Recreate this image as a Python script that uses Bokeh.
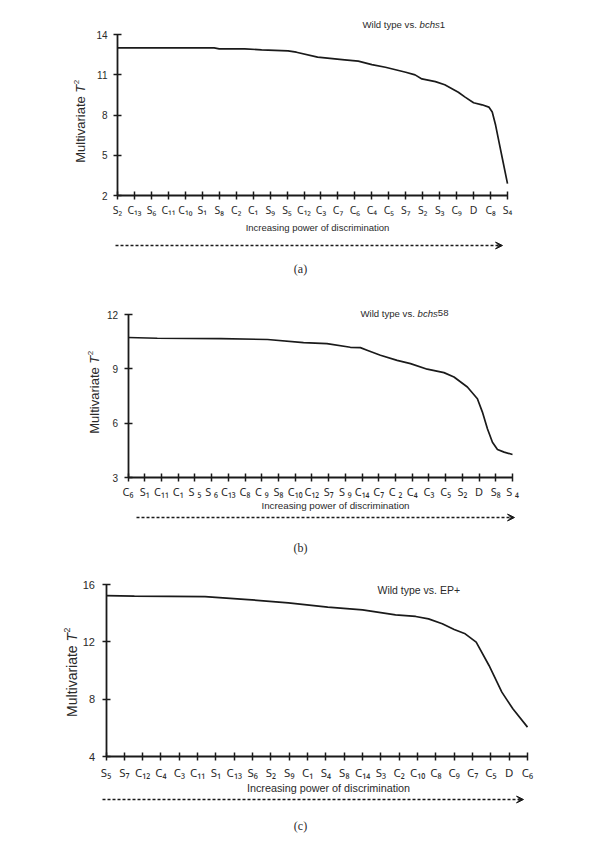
import math
from bokeh.plotting import figure
from bokeh.models import FixedTicker, Label, Arrow, VeeHead, Range1d, LinearAxis
from bokeh.layouts import column
from bokeh.embed import file_html
from bokeh.resources import INLINE

# ---------------- data ----------------
# Panel (a): Wild type vs. bchs1
a_labels = ["S₂", "C₁₃", "S₆", "C₁₁", "C₁₀", "S₁", "S₈", "C₂", "C₁", "S₉", "S₅", "C₁₂",
            "C₃", "C₇", "C₆", "C₄", "C₅", "S₇", "S₂", "S₃", "C₉", "D", "C₈", "S₄"]
a_pos = [0, 5.7, 6.0, 7.5, 8.5, 10.06, 10.55, 11.8, 13.4, 14.2, 15.0, 15.8, 17.0, 17.55,
         17.95, 18.75, 19.3, 20.1, 20.5, 21.0, 21.5, 21.9, 22.1, 22.3, 22.5, 22.7, 23.0]
a_t2 = [13.0, 13.0, 12.93, 12.93, 12.86, 12.78, 12.68, 12.31, 12.11, 12.01, 11.76, 11.56,
        11.19, 10.99, 10.69, 10.49, 10.25, 9.7, 9.33, 8.91, 8.76, 8.59, 8.22, 7.23, 5.98,
        4.74, 2.88]
a_yticks = [2, 5, 8, 11, 14]

# Panel (b): Wild type vs. bchs58
b_labels = ["C₆", "S₁", "C₁₁", "C₁", "S ₅", "S ₆", "C₁₃", "C₈", "C ₉", "S₈", "C₁₀", "C₁₂",
            "S₇", "S ₉", "C₁₄", "C₇", "C ₂", "C₄", "C₃", "C₅", "S₂", "D", "S₈", "S ₄"]
b_pos = [0, 1.75, 5.55, 8.35, 10.5, 11.9, 13.3, 13.9, 14.3, 15.1, 16.1, 16.9, 17.9, 18.9,
         19.5, 20.3, 20.9, 21.2, 21.5, 21.8, 22.1, 22.5, 23.0]
b_t2 = [10.73, 10.69, 10.67, 10.62, 10.45, 10.39, 10.19, 10.17, 10.03, 9.75, 9.47, 9.29,
        8.98, 8.79, 8.55, 8.0, 7.35, 6.61, 5.69, 4.95, 4.55, 4.4, 4.27]
b_yticks = [3, 6, 9, 12]

# Panel (c): Wild type vs. EP+
c_labels = ["S₅", "S₇", "C₁₂", "C₄", "C₃", "C₁₁", "S₁", "C₁₃", "S₆", "S₂", "S₉", "C₁",
            "S₄", "S₈", "C₁₄", "S₃", "C₂", "C₁₀", "C₈", "C₉", "C₇", "C₅", "D", "C₆"]
c_pos = [0, 1.55, 5.4, 7.75, 9.95, 12.1, 14.0, 15.8, 16.9, 17.6, 18.35, 19.0, 19.6, 20.2,
         20.9, 21.6, 22.2, 23.0]
c_t2 = [15.23, 15.19, 15.16, 14.95, 14.72, 14.42, 14.23, 13.88, 13.77, 13.6, 13.26, 12.86,
        12.56, 11.98, 10.35, 8.49, 7.33, 6.05]
c_yticks = [4, 8, 12, 16]

SANS = "Liberation Sans"
TICKF = "Noto Sans"
SERIF = "Liberation Serif"
INK = "#1a1a1a"
TXT = "#2a2a2a"
W = 600

# Arial/Liberation Sans advance widths (per 1000 em) for composing mixed-style texts
ADV = {"M": 833, "u": 556, "l": 222, "t": 278, "i": 222, "v": 500, "a": 556, "r": 333,
       "e": 556, "W": 944, "d": 556, " ": 278, "y": 500, "p": 556, "s": 500, ".": 278,
       "b": 556, "c": 500, "h": 556, "T": 611, "1": 556, "5": 556, "8": 556, "2": 556,
       "E": 667, "P": 667, "+": 584}


def tw(s, size):
    return sum(ADV.get(ch, 556) for ch in s) * size / 1000.0


def panel(labels, xs, ys, yticks, lay):
    top, H = lay["top"], lay["H"]
    X0, X1, Yt, Yb = lay["X0"], lay["X1"], lay["Yt"], lay["Yb"]
    n = len(labels) - 1
    ymin, ymax = yticks[0], yticks[-1]
    sx = (X1 - X0) / n
    sy = (Yb - Yt) / (ymax - ymin)
    xr = Range1d(-X0 / sx, (W - X0) / sx)
    yr = Range1d(ymin - (top + H - Yb) / sy, ymax + (Yt - top) / sy)

    p = figure(width=W, height=H, output_backend="svg", toolbar_location=None,
               x_range=xr, y_range=yr, x_axis_type=None, y_axis_type=None,
               min_border=0, min_border_left=0, min_border_right=0, min_border_top=0,
               min_border_bottom=0)
    p.outline_line_color = None
    p.background_fill_color = "white"
    p.border_fill_color = "white"

    def sxp(px):  # page x -> screen (frame) x
        return px

    def syp(py):  # page y -> screen (frame) y, measured from the bottom
        return top + H - py

    xa = LinearAxis(fixed_location=ymin, bounds=(0, n),
                    ticker=FixedTicker(ticks=list(range(n + 1))))
    xa.major_label_overrides = {i: lab for i, lab in enumerate(labels)}
    xa.major_label_text_font_size = lay["xtick_fs"]
    xa.major_label_standoff = lay["xtick_so"]
    ya = LinearAxis(fixed_location=0, bounds=(ymin, ymax), ticker=FixedTicker(ticks=yticks))
    ya.major_label_text_font_size = lay["ytick_fs"]
    ya.major_label_standoff = lay["ytick_so"]
    for ax in (xa, ya):
        ax.axis_line_color = INK
        ax.axis_line_width = 1.8
        ax.major_tick_line_color = INK
        ax.major_tick_line_width = 1.5
        ax.major_tick_in = 4
        ax.major_tick_out = 4
        ax.minor_tick_line_color = None
        ax.major_label_text_color = TXT
    xa.major_label_text_font = TICKF
    ya.major_label_text_font = SANS
    p.add_layout(xa, "below")
    p.add_layout(ya, "left")

    p.line(xs, ys, line_color=INK, line_width=1.7)

    # title made of pieces (normal / italic)
    tx, ty = lay["title_xy"]
    fs = lay["title_fs"]
    cur = tx
    for text, style in lay["title_parts"]:
        p.add_layout(Label(x=sxp(cur), y=syp(ty), x_units="screen", y_units="screen",
                           text=text, text_font=SANS, text_font_size=f"{fs}px",
                           text_font_style=style, text_color=TXT, text_align="left",
                           text_baseline="middle"))
        cur += tw(text, fs)

    # y axis title "Multivariate T²" (rotated, composed)
    cx, cy = lay["ylab_xy"]
    f = lay["ylab_fs"]
    w1 = tw("Multivariate ", f)
    w2 = tw("T", f)
    f3 = f * 0.62
    w3 = tw("2", f3)
    start = cy + (w1 + w2 + w3) / 2.0  # page y of the text start (bottom)
    pieces = [("Multivariate", "normal", f, 0, 0), ("T", "italic", f, w1, 0),
              ("2", "normal", f3, w1 + w2 + 0.5, -f * 0.3)]
    for text, style, size, off, dxp in pieces:
        p.add_layout(Label(x=sxp(cx + dxp), y=syp(start - off), x_units="screen",
                           y_units="screen", text=text, text_font=SANS,
                           text_font_size=f"{size:.1f}px", text_font_style=style,
                           text_color=TXT, text_align="left", text_baseline="middle",
                           angle=math.pi / 2))

    # x caption
    lx, ly = lay["xlab_xy"]
    p.add_layout(Label(x=sxp(lx), y=syp(ly), x_units="screen", y_units="screen",
                       text="Increasing power of discrimination", text_font=SANS,
                       text_font_size=lay["xlab_fs"], text_color=TXT, text_align="center",
                       text_baseline="middle"))

    # dashed arrow
    ax0, ax1, ay = lay["arrow"]
    p.add_layout(Arrow(x_start=sxp(ax0), y_start=syp(ay), x_end=sxp(ax1), y_end=syp(ay),
                       start_units="screen", end_units="screen", line_color=INK,
                       line_width=1.5, line_dash="3 2",
                       end=VeeHead(size=7, fill_color=INK, line_color=INK, line_width=1)))

    # panel caption
    cpx, cpy = lay["cap_xy"]
    p.add_layout(Label(x=sxp(cpx), y=syp(cpy), x_units="screen", y_units="screen",
                       text=lay["caption"], text_font=SERIF, text_font_size="12px",
                       text_color=TXT, text_align="center", text_baseline="middle"))
    return p


lay_a = dict(top=0, H=285, X0=117, X1=507, Yt=34, Yb=195,
             xtick_fs="10.5px", xtick_so=3, ytick_fs="10px", ytick_so=6,
             title_xy=(362, 24), title_fs=9.6,
             title_parts=[("Wild type vs. ", "normal"), ("bchs", "italic"), ("1", "normal")],
             ylab_xy=(80, 121), ylab_fs=13, xlab_xy=(317, 227), xlab_fs="9.5px",
             arrow=(115, 502, 245), cap_xy=(300, 268), caption="(a)")
lay_b = dict(top=285, H=270, X0=127.5, X1=512, Yt=314, Yb=477,
             xtick_fs="11px", xtick_so=2, ytick_fs="10px", ytick_so=6,
             title_xy=(360, 312.5), title_fs=9.6,
             title_parts=[("Wild type vs. ", "normal"), ("bchs", "italic"), ("58", "normal")],
             ylab_xy=(94, 392), ylab_fs=13, xlab_xy=(335, 505), xlab_fs="9.8px",
             arrow=(136, 514, 517), cap_xy=(300, 547), caption="(b)")
lay_c = dict(top=555, H=313, X0=105.5, X1=527, Yt=584, Yb=756,
             xtick_fs="11.5px", xtick_so=4, ytick_fs="11px", ytick_so=7,
             title_xy=(377, 589), title_fs=10.5,
             title_parts=[("Wild type vs. EP+", "normal")],
             ylab_xy=(71, 672), ylab_fs=14, xlab_xy=(328, 787), xlab_fs="10.8px",
             arrow=(102, 523, 799), cap_xy=(300, 825), caption="(c)")

pa = panel(a_labels, a_pos, a_t2, a_yticks, lay_a)
pb = panel(b_labels, b_pos, b_t2, b_yticks, lay_b)
pc = panel(c_labels, c_pos, c_t2, c_yticks, lay_c)

layout = column(pa, pb, pc, spacing=0)
open("out.html", "w").write(file_html(layout, INLINE))
